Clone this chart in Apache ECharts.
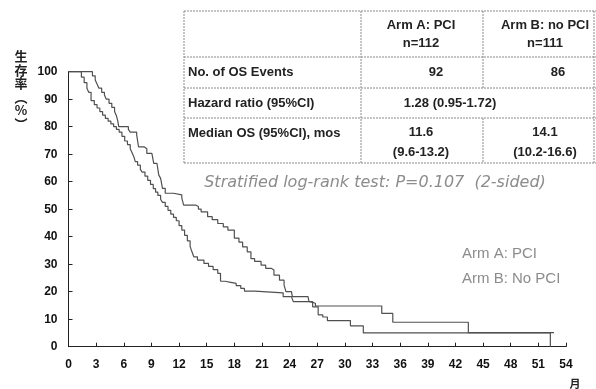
<!DOCTYPE html>
<html><head><meta charset="utf-8">
<script src="https://cdn.jsdelivr.net/npm/echarts@6/dist/echarts.min.js"></script>
<style>html,body{margin:0;padding:0;background:#fff}#c{width:596px;height:389px}</style>
</head><body><div id="c"></div>
<script>
// ---- Data ----
const xTicks = [0,3,6,9,12,15,18,21,24,27,30,33,36,39,42,45,48,51,54];
const yTicks = [0,10,20,30,40,50,60,70,80,90,100];
const seriesNames = ['Arm A: PCI', 'Arm B: No PCI'];

// Arm A: PCI (months, survival %)
const armATime = [0,1.4,1.7,2.0,2.2,2.45,2.8,3.1,3.4,3.7,4.0,4.3,4.6,4.9,5.2,5.5,5.8,6.1,6.4,6.7,6.9,7.1,7.25,7.5,7.8,8.0,8.3,8.6,8.9,9.2,9.45,9.7,10.0,10.2,10.5,10.8,11.1,11.4,11.7,12.0,12.3,12.6,12.9,13.2,13.4,13.6,14.0,14.7,15.2,15.7,16.2,16.5,17.0,17.6,18.2,18.7,19.1,20.2,23.3,24.2,24.4,26.2,26.8,34.0,35.2,43.4,52.7];
const armASurv = [100,98,96,94,92.5,89.5,88,86.8,85.5,84.2,83,82,81,80,79,78,76.5,74.8,73.5,72,70.5,69,67.3,66,64.5,63.5,62,60.5,59,57.5,56.2,55,53.6,52.5,51,49.6,48.2,47,45.8,44,42.4,40.5,38.5,36.5,34.5,32.7,31.5,30.3,29.2,28,26.7,23.8,23.4,23,22.2,21.2,20.2,19.6,18.2,17.6,16.4,15.8,14.8,12.1,8.9,5.1,5.1];

// Arm B: No PCI
const armBTime = [0,2.6,2.9,3.1,3.3,3.6,3.9,4.1,4.4,4.7,5.0,5.2,5.35,5.45,6.5,6.7,7.4,7.6,8.2,8.5,9.05,9.25,9.6,9.8,10.0,10.2,10.5,11.4,12.3,12.5,13.8,14.1,14.4,15.1,15.6,16.2,16.8,17.3,18.0,18.5,18.9,19.4,19.8,20.2,20.9,21.4,22.0,22.3,22.9,23.4,23.6,24.2,24.3,26.0,26.1,26.5,27.1,27.6,28.1,30.6,32.0,52.3,52.3];
const armBSurv = [100,98.5,97,95.5,94,92.5,91.5,90,88.5,87,85.5,84,82,80,79,78,77,72.7,72,70.3,69.7,66.7,66,62.4,61.2,57.6,55.8,55.2,54,51.5,51,50,49,47.3,46.2,44.8,43.6,42.4,39.5,38,36.3,34.5,32,31,29.7,28.5,27.9,26,24.2,22.4,20,19.4,18.2,17.6,16.4,14.5,11.6,10.8,9.5,7.6,5.0,5.0,0];

const tableHeader = ['Arm A: PCI\nn=112', 'Arm B: no PCI\nn=111'];
const tableRowLabels = ['No. of OS Events', 'Hazard ratio (95%CI)', 'Median OS (95%CI), mos'];
const eventsA = '92', eventsB = '86';
const hazardText = '1.28 (0.95-1.72)';
const medianA = '11.6\n(9.6-13.2)', medianB = '14.1\n(10.2-16.6)';
const testText = 'Stratified log-rank test: P=0.107  (2-sided)';

// ---- Chart ----
const zip = (t, s) => t.map((v, i) => [v, s[i]]);
const chart = echarts.init(document.getElementById('c'), null, {renderer: 'canvas'});
const font = 'Liberation Sans';
const lineCol = '#8a8a8a';
const tableTxt = {fontFamily: font, fontSize: 13, fontWeight: 'bold', fill: '#222'};

const g = [];
const L = (x1, y1, x2, y2) => g.push({type: 'line', shape: {x1, y1, x2, y2}, style: {stroke: lineCol, lineWidth: 1, lineDash: [2, 1]}, silent: true});
L(184, 11, 620, 11); L(184, 57, 620, 57); L(184, 88, 620, 88); L(184, 118, 620, 118); L(184, 163, 620, 163);
L(184, 11, 184, 163); L(361, 11, 361, 163); L(483, 11, 483, 88); L(483, 118, 483, 163); L(594, 11, 594, 163);
const T = (text, x, y, align, extra) => g.push({type: 'text', x, y, style: Object.assign({}, tableTxt, {text, align: align || 'center', verticalAlign: 'middle', lineHeight: 18}, extra || {})});
T(tableHeader[0], 421, 34);
T(tableHeader[1], 545, 34);
T(tableRowLabels[0], 188, 72, 'left');
T(tableRowLabels[1], 188, 103, 'left');
T(tableRowLabels[2], 188, 133, 'left');
T(eventsA, 436, 72);
T(eventsB, 558, 72);
T(hazardText, 450, 103);
T(medianA, 421, 142, 'center', {lineHeight: 20});
T(medianB, 545, 142, 'center', {lineHeight: 20});
g.push({type: 'text', x: 375, y: 183, style: {text: testText, align: 'center', verticalAlign: 'middle', fontFamily: 'DejaVu Sans', fontStyle: 'italic', fontSize: 16, fill: '#8c8c8c'}});
g.push({type: 'text', x: 462, y: 254, style: {text: seriesNames[0], verticalAlign: 'middle', fontFamily: font, fontSize: 15, fill: '#8c8c8c'}});
g.push({type: 'text', x: 462, y: 279, style: {text: seriesNames[1], verticalAlign: 'middle', fontFamily: font, fontSize: 15, fill: '#8c8c8c'}});
g.push({type: 'text', x: 21, y: 90, style: {text: '生\n存\n率\n︵\n%\n︶', align: 'center', verticalAlign: 'middle', fontFamily: 'Noto Sans CJK JP', fontSize: 13, fontWeight: 'bold', lineHeight: 13.5, fill: '#222'}});
g.push({type: 'text', x: 575, y: 384, style: {text: '月', align: 'center', verticalAlign: 'middle', fontFamily: 'Noto Sans CJK JP', fontSize: 11, fontWeight: 'bold', fill: '#222'}});

const axisLabel = {fontFamily: font, fontSize: 12, fontWeight: 'bold', color: '#111'};
chart.setOption({
  animation: false,
  backgroundColor: '#fff',
  grid: {left: 68.5, right: 30, top: 71.7, bottom: 42.3, containLabel: false},
  xAxis: {
    type: 'value', min: 0, max: 54, interval: 3,
    axisLine: {lineStyle: {color: '#222', width: 1}},
    axisTick: {inside: true, length: 4, lineStyle: {color: '#222'}},
    axisLabel: Object.assign({margin: 12, formatter: v => xTicks.includes(v) ? String(v) : ''}, axisLabel),
    splitLine: {show: false}
  },
  yAxis: {
    type: 'value', min: 0, max: 100, interval: 10,
    axisLine: {show: true, lineStyle: {color: '#222', width: 1}},
    axisTick: {show: true, inside: true, length: 4, lineStyle: {color: '#222'}},
    axisLabel: Object.assign({margin: 11, formatter: v => yTicks.includes(v) ? String(v) : ''}, axisLabel),
    splitLine: {show: false}
  },
  series: [
    {name: seriesNames[0], type: 'line', step: 'end', showSymbol: false, data: zip(armATime, armASurv), lineStyle: {color: '#505050', width: 1.2}},
    {name: seriesNames[1], type: 'line', step: 'end', showSymbol: false, data: zip(armBTime, armBSurv), lineStyle: {color: '#505050', width: 1.2}}
  ],
  graphic: g
});
</script></body></html>
